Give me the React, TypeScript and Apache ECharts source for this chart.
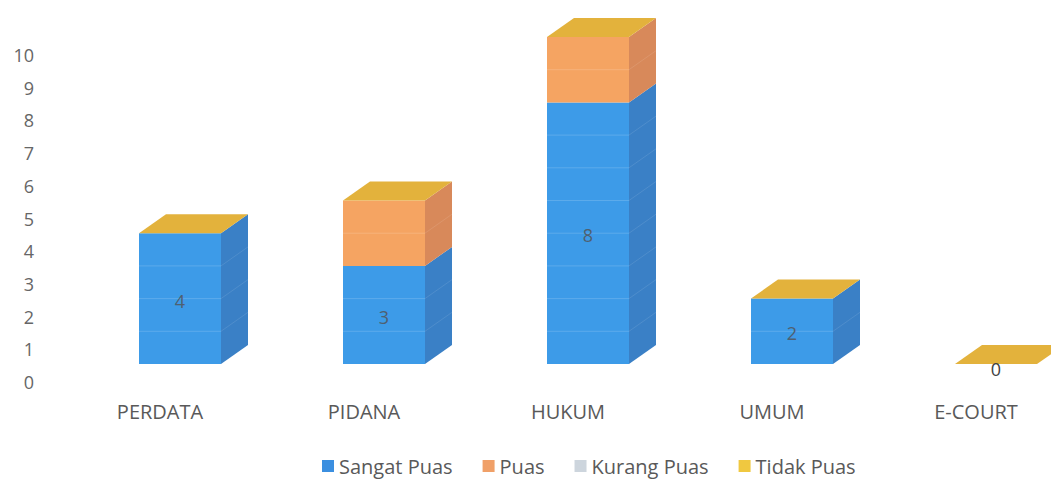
import React, { useEffect, useRef } from "react";
import * as echarts from "echarts";

const categories = ["PERDATA", "PIDANA", "HUKUM", "UMUM", "E-COURT"];
const seriesNames = ["Sangat Puas", "Puas", "Kurang Puas", "Tidak Puas"];
const sangatPuas = [4, 3, 8, 2, 0];
const puas = [0, 2, 2, 0, 0];
const kurangPuas = [0, 0, 0, 0, 0];
const tidakPuas = [0, 0, 0, 0, 0];
const yTicks = [0, 1, 2, 3, 4, 5, 6, 7, 8, 9, 10];

const FONT = "'Open Sans', 'Noto Sans', sans-serif";

const faceColors = [
  { front: "#3d9be8", side: "#3a80c6", legend: "#3b8fe0" },
  { front: "#f5a462", side: "#d8895a", legend: "#f0a068" },
  { front: "#d3dbe3", side: "#b8c0c8", legend: "#cdd5dd" },
  { front: "#e8c040", side: "#c9a030", legend: "#f0c840" },
];
const TOP_COLOR = "#e3b23c";

export default function App() {
  const ref = useRef<HTMLDivElement>(null);
  useEffect(() => {
    if (!ref.current) return;
    const chart = echarts.init(ref.current, null, { renderer: "svg" });
    const allSeries = [sangatPuas, puas, kurangPuas, tidakPuas];
    const W = 82;
    const DX = 27;
    const DY = 19;
    const OFF = 18;
    const SHIFT = 20;

    const series = allSeries.map((vals, si) => {
      const data = vals.map((v, i) => {
        let base = 0;
        for (let k = 0; k < si; k++) base += allSeries[k][i];
        return [i, base, base + v];
      });
      return {
        type: "custom",
        name: seriesNames[si],
        itemStyle: { color: faceColors[si].legend },
        encode: { x: 0, y: [1, 2] },
        clip: false,
        data,
        renderItem: (params: any, api: any) => {
          const i = api.value(0);
          const b = api.value(1);
          const t = api.value(2);
          const pb = api.coord([i, b]);
          const pt = api.coord([i, t]);
          const cx = pb[0] + SHIFT;
          const x0 = cx - W / 2;
          const x1 = cx + W / 2;
          const yb = pb[1] - OFF;
          const yt = pt[1] - OFF;
          const children: any[] = [];
          const c = faceColors[si];
          if (t > b) {
            children.push({
              type: "rect",
              shape: { x: x0, y: yt, width: W, height: yb - yt },
              style: { fill: c.front },
            });
            children.push({
              type: "polygon",
              shape: {
                points: [
                  [x1, yb],
                  [x1 + DX, yb - DY],
                  [x1 + DX, yt - DY],
                  [x1, yt],
                ],
              },
              style: { fill: c.side },
            });
            for (let u = Math.ceil(b + 0.001); u < t; u++) {
              const yy = api.coord([i, u])[1] - OFF;
              children.push({
                type: "line",
                shape: { x1: x0, y1: yy, x2: x1, y2: yy },
                style: { stroke: "rgba(255,255,255,0.16)", lineWidth: 1 },
              });
              children.push({
                type: "line",
                shape: { x1: x1, y1: yy, x2: x1 + DX, y2: yy - DY },
                style: { stroke: "rgba(255,255,255,0.1)", lineWidth: 1 },
              });
            }
          }
          if (si === allSeries.length - 1) {
            children.push({
              type: "polygon",
              shape: {
                points: [
                  [x0, yt],
                  [x1, yt],
                  [x1 + DX, yt - DY],
                  [x0 + DX, yt - DY],
                ],
              },
              style: { fill: TOP_COLOR },
            });
          }
          if (si === 0) {
            children.push({
              type: "text",
              z2: 10,
              style: {
                text: String(vals[i]),
                x: cx,
                y: (yb + yt) / 2 + (t === b ? 5 : 2),
                align: "center",
                verticalAlign: "middle",
                fill: t === b ? "#404040" : "#4f6070",
                fontSize: 18,
                fontFamily: FONT,
              },
            });
          }
          return { type: "group", children };
        },
      };
    });

    chart.setOption({
      animation: false,
      grid: { left: 160, top: 55, right: 75, bottom: 98 },
      legend: {
        data: seriesNames,
        left: 317,
        top: 451,
        icon: "rect",
        itemWidth: 12,
        itemHeight: 12,
        itemGap: 30,
        textStyle: { fontSize: 20, color: "#595959", fontFamily: FONT },
      },
      xAxis: {
        type: "category",
        data: categories,
        boundaryGap: false,
        axisLine: { show: false },
        axisTick: { show: false },
        axisLabel: { fontSize: 20, color: "#595959", fontFamily: FONT, margin: 19 },
      },
      yAxis: {
        type: "value",
        min: yTicks[0],
        max: yTicks[yTicks.length - 1],
        interval: 1,
        splitLine: { show: false },
        axisLine: { show: false },
        axisTick: { show: false },
        axisLabel: { fontSize: 18, color: "#666666", fontFamily: FONT, margin: 126 },
      },
      series,
    });
    return () => chart.dispose();
  }, []);
  return (
    <div
      ref={ref}
      style={{ position: "fixed", left: 0, top: 0, width: 1051, height: 480, background: "#fff" }}
    />
  );
}
